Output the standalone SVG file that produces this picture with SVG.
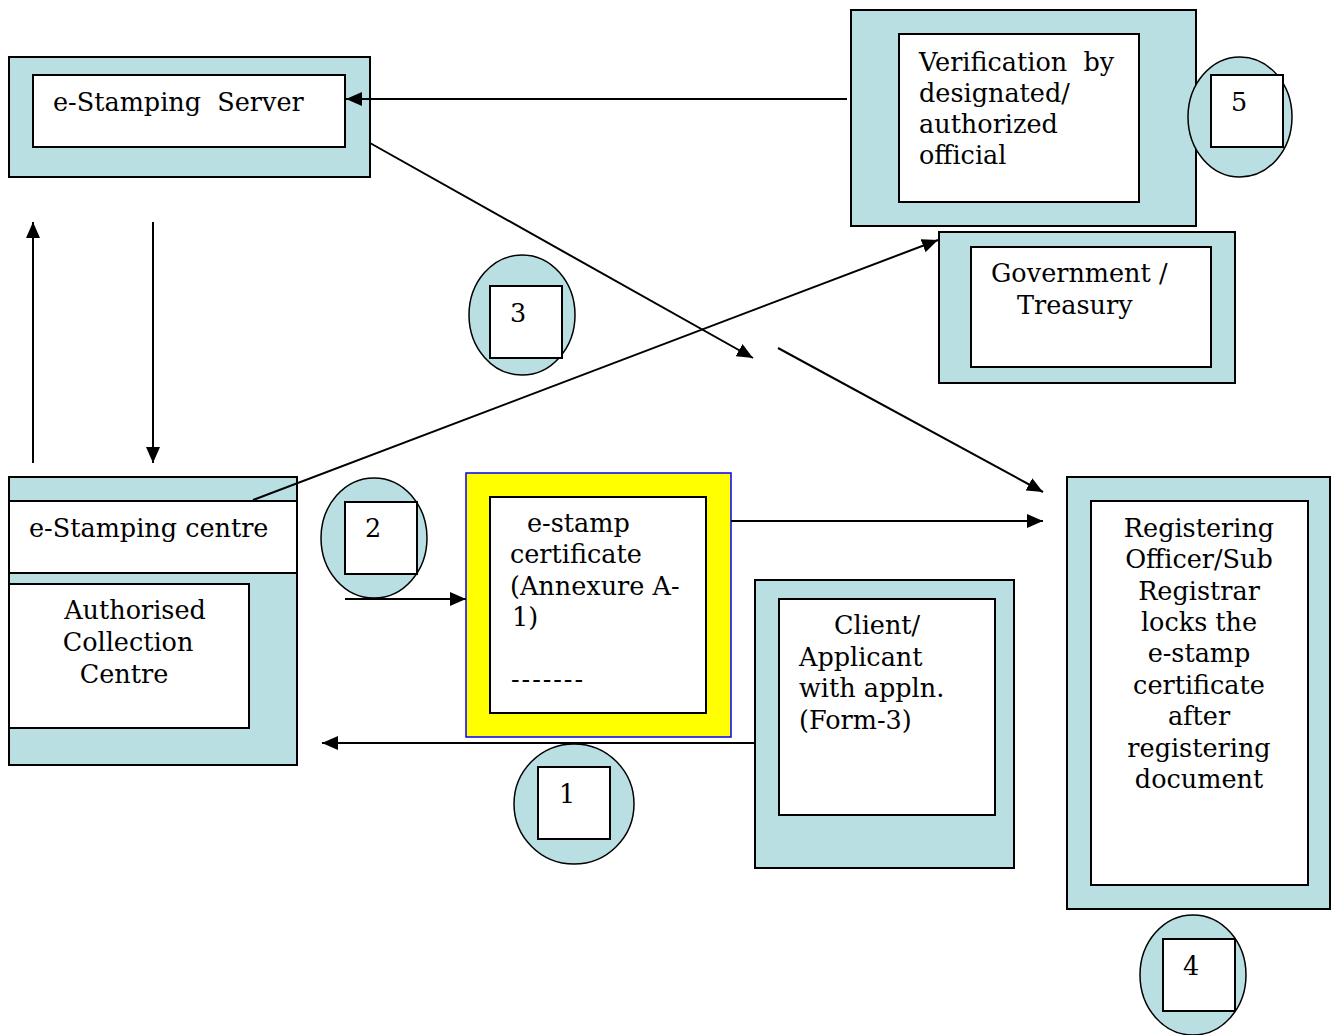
<svg xmlns="http://www.w3.org/2000/svg" width="1332" height="1035" viewBox="0 0 1332 1035">
<style>
.outer{fill:#BADFE2;stroke:#000;stroke-width:2}
.inner{fill:#fff;stroke:#000;stroke-width:2}
.badge{fill:#BADFE2;stroke:#000;stroke-width:1.5}
.sq{fill:#fff;stroke:#000;stroke-width:2}
.t{font-family:"DejaVu Serif","Liberation Serif",serif;font-size:25.5px;fill:#000}
.c{text-anchor:middle}
.conn line{stroke:#000;stroke-width:2}
</style>
<defs>
<marker id="ah" markerUnits="userSpaceOnUse" markerWidth="18" markerHeight="14" refX="16" refY="7" orient="auto">
<path d="M0,0 L16,7 L0,14 Z" fill="#000"/>
</marker>
</defs>
<rect width="1332" height="1035" fill="#fff"/>

<g id="server">
<rect class="outer" x="9" y="57" width="361" height="120"/>
<rect class="inner" x="33" y="75" width="312" height="72"/>
<text class="t" x="53" y="111" xml:space="preserve">e-Stamping  Server</text>
</g>

<g id="verification">
<rect class="outer" x="851" y="10" width="345" height="216"/>
<rect class="inner" x="899" y="34" width="240" height="168"/>
<text class="t" x="919" y="71" xml:space="preserve">Verification  by</text>
<text class="t" x="919" y="102">designated/</text>
<text class="t" x="919" y="133">authorized</text>
<text class="t" x="919" y="164">official</text>
</g>

<g id="badge5">
<ellipse class="badge" cx="1240" cy="117" rx="52" ry="60"/>
<rect class="sq" x="1211" y="75" width="72" height="72"/>
<text class="t" x="1231" y="111">5</text>
</g>

<g id="treasury">
<rect class="outer" x="939" y="232" width="296" height="151"/>
<rect class="inner" x="971" y="247" width="240" height="120"/>
<text class="t" x="991" y="282">Government /</text>
<text class="t" x="1017" y="314">Treasury</text>
</g>

<g id="badge3">
<ellipse class="badge" cx="522" cy="315" rx="53" ry="60"/>
<rect class="sq" x="490" y="286" width="72" height="72"/>
<text class="t" x="510" y="322">3</text>
</g>

<g id="centre">
<rect class="outer" x="9" y="477" width="288" height="288"/>
<rect class="inner" x="9" y="501" width="288" height="72"/>
<text class="t" x="29" y="537">e-Stamping centre</text>
<rect class="inner" x="9" y="584" width="240" height="144"/>
<text class="t c" x="135" y="619">Authorised</text>
<text class="t c" x="128" y="651">Collection</text>
<text class="t c" x="124" y="683">Centre</text>
</g>

<g id="badge2">
<ellipse class="badge" cx="374" cy="538" rx="53" ry="60"/>
<rect class="sq" x="345" y="502" width="72" height="72"/>
<text class="t" x="365" y="537">2</text>
</g>

<g id="certificate">
<rect x="466" y="473" width="265" height="264" fill="#FFFF00" stroke="#0000FF" stroke-width="1.5"/>
<rect class="inner" x="490" y="497" width="216" height="216"/>
<text class="t" x="527" y="532">e-stamp</text>
<text class="t" x="510" y="563">certificate</text>
<text class="t" x="510" y="595">(Annexure A-</text>
<text class="t" x="512" y="626">1)</text>
<text class="t" x="511" y="688" textLength="72">-------</text>
</g>

<g id="client">
<rect class="outer" x="755" y="580" width="259" height="288"/>
<rect class="inner" x="779" y="599" width="216" height="216"/>
<text class="t" x="834" y="634">Client/</text>
<text class="t" x="799" y="666">Applicant</text>
<text class="t" x="799" y="697">with appln.</text>
<text class="t" x="799" y="729">(Form-3)</text>
</g>

<g id="badge1">
<circle class="badge" cx="574" cy="804" r="60"/>
<rect class="sq" x="538" y="767" width="72" height="72"/>
<text class="t" x="559" y="803">1</text>
</g>

<g id="registering">
<rect class="outer" x="1067" y="477" width="263" height="432"/>
<rect class="inner" x="1091" y="501" width="217" height="384"/>
<text class="t c" x="1199" y="537">Registering</text>
<text class="t c" x="1199" y="568">Officer/Sub</text>
<text class="t c" x="1199" y="600">Registrar</text>
<text class="t c" x="1199" y="631">locks the</text>
<text class="t c" x="1199" y="662">e-stamp</text>
<text class="t c" x="1199" y="694">certificate</text>
<text class="t c" x="1199" y="725">after</text>
<text class="t c" x="1199" y="757">registering</text>
<text class="t c" x="1199" y="788">document</text>
</g>

<g id="badge4">
<ellipse class="badge" cx="1193" cy="975" rx="53" ry="60"/>
<rect class="sq" x="1163" y="939" width="72" height="72"/>
<text class="t" x="1183" y="975">4</text>
</g>

<g id="connectors" class="conn">
<line x1="847" y1="99" x2="346" y2="99" marker-end="url(#ah)"/>
<line x1="153" y1="222" x2="153" y2="463" marker-end="url(#ah)"/>
<line x1="33" y1="463" x2="33" y2="222" marker-end="url(#ah)"/>
<line x1="370" y1="143" x2="753" y2="358" marker-end="url(#ah)"/>
<line x1="778" y1="348" x2="1043" y2="492" marker-end="url(#ah)"/>
<line x1="253" y1="500" x2="938" y2="240" marker-end="url(#ah)"/>
<line x1="345" y1="599" x2="466" y2="599" marker-end="url(#ah)"/>
<line x1="731" y1="521" x2="1043" y2="521" marker-end="url(#ah)"/>
<line x1="755" y1="743" x2="322" y2="743" marker-end="url(#ah)"/>
</g>
</svg>
